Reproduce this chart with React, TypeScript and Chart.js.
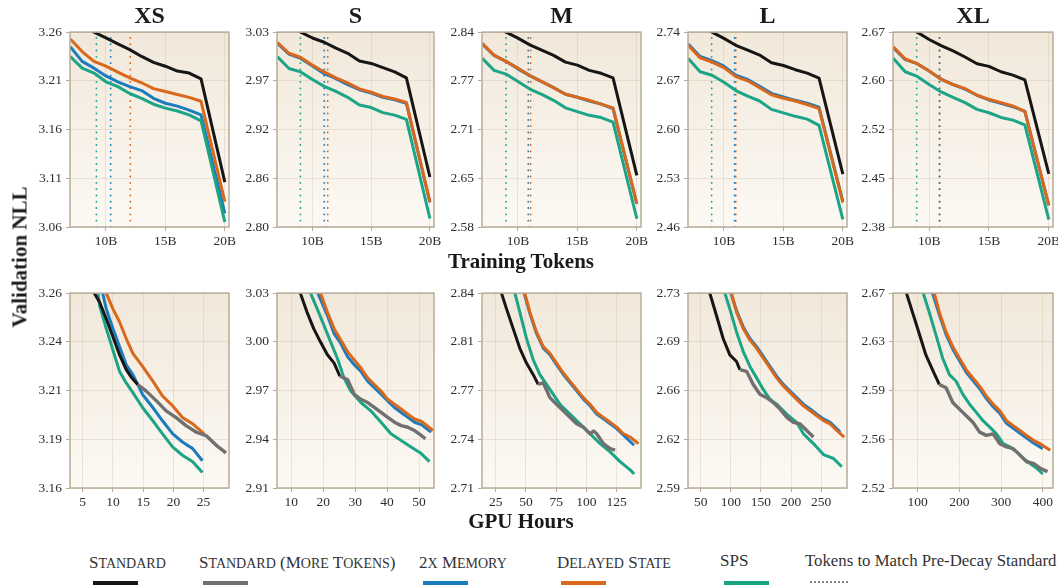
import React, { useEffect, useRef } from "react";
import { Chart, registerables } from "chart.js";
Chart.register(...registerables);

const FONT = "'Liberation Serif', 'Times New Roman', Times, serif";
const C_STD = "#161616";
const C_MORE = "#707070";
const C_MEM = "#1b7bbf";
const C_DEL = "#d9681c";
const C_SPS = "#1ca486";
const FRAME = "#b8ac99";
const GRID = "rgba(190,176,152,0.28)";
const TXT = "#2e2e2e";

// ---------------- data ----------------
const SIZES = ["XS", "S", "M", "L", "XL"];
const TOKENS = [7, 8, 9, 10, 11, 12, 13, 14, 15, 16, 17, 18, 20];
const TOKEN_TICKS = [10, 15, 20];
const TOKEN_TICK_LABELS = ["10B", "15B", "20B"];

const XS_TOK_YTICKS = ["3.06", "3.11", "3.16", "3.21", "3.26"];
const S_TOK_YTICKS = ["2.80", "2.86", "2.92", "2.97", "3.03"];
const M_TOK_YTICKS = ["2.58", "2.65", "2.71", "2.77", "2.84"];
const L_TOK_YTICKS = ["2.46", "2.53", "2.60", "2.67", "2.74"];
const XL_TOK_YTICKS = ["2.38", "2.45", "2.52", "2.60", "2.67"];

const XS_TOK_STD = [3.274, 3.267, 3.26, 3.254, 3.248, 3.242, 3.235, 3.229, 3.225, 3.22, 3.218, 3.212, 3.106];
const XS_TOK_MEM = [3.245, 3.23, 3.223, 3.215, 3.209, 3.204, 3.2, 3.192, 3.187, 3.184, 3.18, 3.175, 3.074];
const XS_TOK_DEL = [3.253, 3.24, 3.23, 3.225, 3.219, 3.213, 3.208, 3.202, 3.199, 3.196, 3.193, 3.189, 3.086];
const XS_TOK_SPS = [3.235, 3.223, 3.218, 3.209, 3.204, 3.197, 3.192, 3.186, 3.182, 3.179, 3.175, 3.169, 3.065];
const XS_MATCH = [9.2, 10.4, 12.05]; // SPS, 2x Memory, Delayed State

const S_TOK_STD = [3.045, 3.037, 3.03, 3.023, 3.018, 3.011, 3.005, 2.996, 2.993, 2.988, 2.983, 2.976, 2.859];
const S_TOK_MEM = [3.017, 3.004, 2.999, 2.99, 2.981, 2.975, 2.968, 2.962, 2.958, 2.953, 2.95, 2.946, 2.829];
const S_TOK_DEL = [3.018, 3.005, 3.0, 2.991, 2.983, 2.976, 2.97, 2.963, 2.959, 2.954, 2.951, 2.947, 2.83];
const S_TOK_SPS = [3.001, 2.987, 2.983, 2.974, 2.966, 2.96, 2.953, 2.944, 2.941, 2.935, 2.932, 2.927, 2.81];
const S_MATCH = [8.97, 11.0, 11.3];

const M_TOK_STD = [2.858, 2.849, 2.84, 2.832, 2.823, 2.816, 2.809, 2.8, 2.796, 2.789, 2.785, 2.779, 2.649];
const M_TOK_MEM = [2.824, 2.809, 2.801, 2.791, 2.782, 2.774, 2.766, 2.757, 2.753, 2.748, 2.744, 2.738, 2.611];
const M_TOK_DEL = [2.825, 2.809, 2.801, 2.792, 2.782, 2.774, 2.766, 2.757, 2.753, 2.749, 2.744, 2.739, 2.611];
const M_TOK_SPS = [2.805, 2.789, 2.784, 2.774, 2.764, 2.757, 2.749, 2.739, 2.734, 2.729, 2.726, 2.72, 2.591];
const M_MATCH = [9.0, 10.87, 11.07];

const L_TOK_STD = [2.757, 2.748, 2.74, 2.731, 2.721, 2.714, 2.707, 2.696, 2.692, 2.686, 2.681, 2.674, 2.536];
const L_TOK_MEM = [2.723, 2.705, 2.699, 2.691, 2.678, 2.672, 2.662, 2.652, 2.647, 2.642, 2.638, 2.632, 2.497];
const L_TOK_DEL = [2.721, 2.703, 2.697, 2.689, 2.676, 2.67, 2.66, 2.65, 2.645, 2.641, 2.636, 2.63, 2.495];
const L_TOK_SPS = [2.702, 2.683, 2.678, 2.668, 2.656, 2.648, 2.641, 2.629, 2.624, 2.619, 2.615, 2.606, 2.471];
const L_MATCH = [8.97, 10.9, 11.0];

const XL_TOK_STD = [2.69, 2.679, 2.67, 2.659, 2.65, 2.642, 2.633, 2.623, 2.619, 2.611, 2.606, 2.599, 2.459];
const XL_TOK_MEM = [2.647, 2.629, 2.623, 2.612, 2.6, 2.592, 2.585, 2.576, 2.569, 2.564, 2.559, 2.552, 2.412];
const XL_TOK_DEL = [2.648, 2.63, 2.623, 2.612, 2.6, 2.592, 2.586, 2.576, 2.57, 2.565, 2.56, 2.552, 2.412];
const XL_TOK_SPS = [2.631, 2.611, 2.604, 2.592, 2.581, 2.573, 2.565, 2.555, 2.55, 2.543, 2.539, 2.532, 2.391];
const XL_MATCH = [8.96, 10.87, 10.87];

// GPU hours row: [hours, NLL] pairs
const XS_GPU_YTICKS = ["3.16", "3.19", "3.21", "3.24", "3.26"];
const S_GPU_YTICKS = ["2.91", "2.94", "2.97", "3.00", "3.03"];
const M_GPU_YTICKS = ["2.71", "2.74", "2.77", "2.81", "2.84"];
const L_GPU_YTICKS = ["2.59", "2.62", "2.66", "2.69", "2.73"];
const XL_GPU_YTICKS = ["2.52", "2.56", "2.59", "2.63", "2.67"];

const XS_GPU_XTICKS = [5, 10, 15, 20, 25];
const S_GPU_XTICKS = [10, 20, 30, 40, 50];
const M_GPU_XTICKS = [25, 50, 75, 100, 125];
const L_GPU_XTICKS = [50, 100, 150, 200, 250];
const XL_GPU_XTICKS = [100, 200, 300, 400];

const XS_GPU_STD = [[6.0, 3.275], [6.9, 3.26], [7.8, 3.2553], [8.9, 3.2468], [10.0, 3.2376], [11.1, 3.2283], [12.2, 3.2207], [13.0, 3.217], [14.1, 3.2131]];
const XS_GPU_MORE = [[14.1, 3.2131], [15.5, 3.2097], [17.2, 3.2047], [18.8, 3.1996], [20.4, 3.1962], [22.1, 3.192], [23.8, 3.1886], [25.4, 3.1869], [27.1, 3.1819], [28.7, 3.178]];
const XS_GPU_MEM = [[7.8, 3.268], [8.3, 3.26], [8.9, 3.2519], [10.0, 3.2418], [11.1, 3.2325], [12.2, 3.2232], [13.3, 3.2182], [14.9, 3.208], [16.6, 3.2013], [18.2, 3.1945], [19.9, 3.1878], [21.5, 3.1836], [23.2, 3.1802], [24.8, 3.174]];
const XS_GPU_DEL = [[8.3, 3.27], [8.9, 3.26], [10.0, 3.2519], [11.1, 3.2452], [12.2, 3.2367], [13.3, 3.2291], [14.9, 3.2224], [16.6, 3.2148], [18.2, 3.2072], [19.9, 3.2021], [21.5, 3.1962], [23.2, 3.1929], [25.1, 3.1878]];
const XS_GPU_SPS = [[7.0, 3.272], [7.8, 3.2536], [8.9, 3.2418], [10.0, 3.2308], [11.1, 3.2198], [12.2, 3.2139], [13.3, 3.2089], [14.9, 3.2013], [16.6, 3.1945], [18.2, 3.1878], [19.9, 3.181], [21.5, 3.1768], [23.2, 3.1735], [24.8, 3.1679]];

const S_GPU_STD = [[11.5, 3.042], [12.8, 3.03], [14.9, 3.0183], [17.0, 3.0081], [19.1, 3.0], [21.3, 2.992], [23.4, 2.9869], [25.2, 2.9788]];
const S_GPU_MORE = [[25.2, 2.9788], [27.6, 2.9768], [29.7, 2.9677], [31.8, 2.9646], [33.9, 2.9626], [36.0, 2.9596], [38.1, 2.9565], [40.2, 2.9535], [42.3, 2.9505], [44.4, 2.9484], [46.5, 2.9474], [48.6, 2.9454], [50.7, 2.9424], [52.0, 2.9403]];
const S_GPU_MEM = [[17.0, 3.038], [18.3, 3.03], [21.3, 3.0162], [23.4, 3.0051], [25.5, 2.999], [27.6, 2.9909], [29.7, 2.9859], [31.8, 2.9818], [33.9, 2.9758], [36.0, 2.9717], [38.1, 2.9677], [40.2, 2.9636], [42.3, 2.9596], [44.4, 2.9565], [46.5, 2.9535], [48.6, 2.9505], [50.7, 2.949], [53.8, 2.9444]];
const S_GPU_DEL = [[17.5, 3.04], [19.1, 3.03], [21.3, 3.0183], [23.4, 3.0081], [25.5, 3.0011], [27.6, 2.994], [29.7, 2.9889], [31.8, 2.9839], [33.9, 2.9778], [36.0, 2.9737], [38.1, 2.9697], [40.2, 2.9646], [42.3, 2.9616], [44.4, 2.9586], [46.5, 2.9555], [48.6, 2.9525], [50.7, 2.9511], [54.4, 2.9454]];
const S_GPU_SPS = [[14.5, 3.04], [16.0, 3.03], [18.1, 3.0203], [20.2, 3.0102], [22.3, 3.0], [24.4, 2.9899], [26.5, 2.9778], [28.6, 2.9697], [31.8, 2.9626], [34.9, 2.9575], [38.1, 2.9505], [41.2, 2.9434], [44.4, 2.9393], [47.5, 2.9353], [50.7, 2.9312], [53.3, 2.9262]];

const M_GPU_STD = [[27, 2.846], [29.7, 2.84], [33.9, 2.8295], [39.4, 2.8163], [44.9, 2.8032], [50.4, 2.7933], [56.0, 2.7856], [60.1, 2.7791]];
const M_GPU_MORE = [[60.1, 2.7791], [64.3, 2.7802], [69.8, 2.7703], [75.3, 2.7659], [80.9, 2.7615], [86.4, 2.7571], [91.9, 2.7528], [97.5, 2.7506], [103.0, 2.7462], [106.0, 2.748], [108.5, 2.7462], [114.1, 2.7396], [119.6, 2.7363], [123.8, 2.7352]];
const M_GPU_MEM = [[46, 2.846], [48.5, 2.84], [53.2, 2.8265], [58.7, 2.8131], [64.3, 2.8033], [69.8, 2.7989], [75.3, 2.7923], [80.9, 2.7857], [86.4, 2.7803], [91.9, 2.7748], [97.5, 2.7693], [103.0, 2.7649], [108.5, 2.7594], [114.1, 2.7561], [119.6, 2.7529], [125.1, 2.7496], [130.7, 2.7452], [139.5, 2.7385]];
const M_GPU_DEL = [[46.5, 2.846], [49, 2.84], [53.2, 2.8273], [58.7, 2.8141], [64.3, 2.8043], [69.8, 2.7999], [75.3, 2.7933], [80.9, 2.7867], [86.4, 2.7813], [91.9, 2.7758], [97.5, 2.7703], [103.0, 2.7659], [108.5, 2.7604], [114.1, 2.7571], [119.6, 2.7539], [125.1, 2.7506], [130.7, 2.7462], [136.2, 2.744], [143.1, 2.7396]];
const M_GPU_SPS = [[38, 2.846], [40.8, 2.84], [44.9, 2.8273], [50.4, 2.8098], [56.0, 2.7955], [61.5, 2.7856], [67.0, 2.7791], [72.6, 2.7725], [78.1, 2.7659], [86.4, 2.7593], [94.7, 2.7528], [103.0, 2.7462], [111.3, 2.7396], [119.6, 2.7341], [127.9, 2.7276], [136.2, 2.7221], [139.5, 2.7194]];

const L_GPU_STD = [[60, 2.737], [65, 2.73], [76.1, 2.7139], [87.2, 2.6974], [98.3, 2.6856], [109.4, 2.6809], [115, 2.675]];
const L_GPU_MORE = [[115, 2.675], [126.1, 2.6738], [137.2, 2.6644], [148.3, 2.6573], [159.4, 2.6549], [170.6, 2.6514], [181.7, 2.6467], [192.8, 2.6408], [203.9, 2.6372], [215, 2.636], [226.1, 2.6313], [237.2, 2.6266]];
const L_GPU_MEM = [[96, 2.737], [100, 2.73], [109.4, 2.7175], [120.6, 2.7057], [131.7, 2.6974], [142.8, 2.6915], [153.9, 2.6845], [165, 2.6774], [176.1, 2.6703], [187.2, 2.6644], [198.3, 2.6597], [209.4, 2.6549], [220.6, 2.6502], [231.7, 2.6467], [242.8, 2.6431], [253.9, 2.6396], [265, 2.6372], [281.7, 2.6301]];
const L_GPU_DEL = [[97, 2.737], [101, 2.73], [109.4, 2.7163], [120.6, 2.7045], [131.7, 2.6962], [142.8, 2.6903], [153.9, 2.6833], [165, 2.6762], [176.1, 2.6691], [187.2, 2.6632], [198.3, 2.6585], [209.4, 2.6537], [220.6, 2.649], [231.7, 2.6455], [242.8, 2.6419], [253.9, 2.6384], [265, 2.636], [276.1, 2.6313], [288.3, 2.6266]];
const L_GPU_SPS = [[86, 2.737], [90, 2.73], [98.3, 2.7187], [109.4, 2.7021], [120.6, 2.688], [131.7, 2.6773], [142.8, 2.6691], [153.9, 2.6608], [165, 2.6537], [176.1, 2.6502], [192.8, 2.6431], [209.4, 2.6372], [220.6, 2.6289], [237.2, 2.6219], [253.9, 2.614], [270.6, 2.6112], [284.4, 2.6053]];

const XL_GPU_STD = [[65, 2.684], [73.5, 2.67], [88, 2.6553], [104, 2.6389], [120, 2.6224], [136, 2.611], [152, 2.5997]];
const XL_GPU_MORE = [[152, 2.5997], [168.3, 2.5971], [184.3, 2.5858], [200.4, 2.5807], [216.5, 2.5756], [232.5, 2.5706], [248.6, 2.563], [264.7, 2.5605], [280.7, 2.5617], [296.8, 2.5541], [312.9, 2.5516], [328.9, 2.5503], [345, 2.5453], [361, 2.5402], [377.1, 2.5389], [393.2, 2.5352], [410.8, 2.5326]];
const XL_GPU_MEM = [[128, 2.684], [136, 2.67], [152.2, 2.6533], [168.3, 2.6381], [184.3, 2.6268], [200.4, 2.6179], [216.5, 2.609], [232.5, 2.6027], [248.6, 2.5964], [264.7, 2.5888], [280.7, 2.5825], [296.8, 2.5774], [312.9, 2.5698], [328.9, 2.566], [345, 2.5622], [361, 2.5584], [377.1, 2.5547], [399.6, 2.5503]];
const XL_GPU_DEL = [[131, 2.684], [140, 2.67], [152.2, 2.6553], [168.3, 2.6401], [184.3, 2.6288], [200.4, 2.6199], [216.5, 2.611], [232.5, 2.6047], [248.6, 2.5984], [264.7, 2.5908], [280.7, 2.5845], [296.8, 2.5794], [312.9, 2.5718], [328.9, 2.568], [345, 2.5642], [361, 2.5604], [377.1, 2.5567], [393.2, 2.5541], [417.3, 2.5491]];
const XL_GPU_SPS = [[106, 2.684], [113.7, 2.67], [128.1, 2.6553], [144.2, 2.6376], [160.2, 2.6199], [176.3, 2.6073], [192.4, 2.6022], [208.4, 2.5921], [224.5, 2.5845], [240.6, 2.5782], [256.6, 2.5718], [272.7, 2.5668], [288.8, 2.5617], [304.8, 2.5541], [320.9, 2.5516], [337, 2.5478], [353, 2.5427], [369.1, 2.5389], [385.1, 2.5352], [399.6, 2.5308]];

const LEGEND_LABELS = ["Standard", "Standard (More Tokens)", "2x Memory", "Delayed State", "SPS", "Tokens to Match Pre-Decay Standard"];

// ---------------- layout ----------------
const PLOT_LEFT = [70, 277, 482, 688, 893];
const PLOT_W = [159, 157, 159, 159, 160];
const ROW_TOP = [30, 291];
const PLOT_H = 197;
const YW = 44, PT = 10, PR = 20, XH = 26;

type Pt = { x: number; y: number };
type Series = { color: string; data: Pt[]; order: number; width?: number };
type PanelCfg = {
  col: number; row: number;
  xMin: number; xMax: number; xTicks: number[]; xLabels: string[];
  yMin: number; yMax: number; yLabels: string[];
  series: Series[]; dots: { x: number; color: string }[];
};

const fromTokens = (arr: number[]): Pt[] => TOKENS.map((x, i) => ({ x, y: arr[i] }));
const fromPairs = (arr: number[][]): Pt[] => arr.map(([x, y]) => ({ x, y }));

const TOK_SETS = [
  { std: XS_TOK_STD, mem: XS_TOK_MEM, del: XS_TOK_DEL, sps: XS_TOK_SPS, match: XS_MATCH, yl: XS_TOK_YTICKS },
  { std: S_TOK_STD, mem: S_TOK_MEM, del: S_TOK_DEL, sps: S_TOK_SPS, match: S_MATCH, yl: S_TOK_YTICKS },
  { std: M_TOK_STD, mem: M_TOK_MEM, del: M_TOK_DEL, sps: M_TOK_SPS, match: M_MATCH, yl: M_TOK_YTICKS },
  { std: L_TOK_STD, mem: L_TOK_MEM, del: L_TOK_DEL, sps: L_TOK_SPS, match: L_MATCH, yl: L_TOK_YTICKS },
  { std: XL_TOK_STD, mem: XL_TOK_MEM, del: XL_TOK_DEL, sps: XL_TOK_SPS, match: XL_MATCH, yl: XL_TOK_YTICKS },
];
const GPU_SETS = [
  { std: XS_GPU_STD, more: XS_GPU_MORE, mem: XS_GPU_MEM, del: XS_GPU_DEL, sps: XS_GPU_SPS, yl: XS_GPU_YTICKS, xt: XS_GPU_XTICKS, xr: [2.9, 29.2] },
  { std: S_GPU_STD, more: S_GPU_MORE, mem: S_GPU_MEM, del: S_GPU_DEL, sps: S_GPU_SPS, yl: S_GPU_YTICKS, xt: S_GPU_XTICKS, xr: [5.5, 54.7] },
  { std: M_GPU_STD, more: M_GPU_MORE, mem: M_GPU_MEM, del: M_GPU_DEL, sps: M_GPU_SPS, yl: M_GPU_YTICKS, xt: M_GPU_XTICKS, xr: [13.6, 145.2] },
  { std: L_GPU_STD, more: L_GPU_MORE, mem: L_GPU_MEM, del: L_GPU_DEL, sps: L_GPU_SPS, yl: L_GPU_YTICKS, xt: L_GPU_XTICKS, xr: [28.8, 293] },
  { std: XL_GPU_STD, more: XL_GPU_MORE, mem: XL_GPU_MEM, del: XL_GPU_DEL, sps: XL_GPU_SPS, yl: XL_GPU_YTICKS, xt: XL_GPU_XTICKS, xr: [41.4, 424] },
];

const PANELS: PanelCfg[] = [
  ...TOK_SETS.map((s, col) => ({
    col, row: 0,
    xMin: 6.98, xMax: 20.35, xTicks: TOKEN_TICKS, xLabels: TOKEN_TICK_LABELS,
    yMin: parseFloat(s.yl[0]), yMax: parseFloat(s.yl[4]), yLabels: s.yl,
    series: [
      { color: C_MEM, data: fromTokens(s.mem), order: 5 },
      { color: C_DEL, data: fromTokens(s.del), order: 4 },
      { color: C_SPS, data: fromTokens(s.sps), order: 3 },
      { color: C_STD, data: fromTokens(s.std), order: 2 },
    ],
    dots: [
      { x: s.match[0], color: C_SPS },
      { x: s.match[1], color: C_MEM },
      { x: s.match[2], color: C_DEL },
    ],
  })),
  ...GPU_SETS.map((s, col) => ({
    col, row: 1,
    xMin: s.xr[0], xMax: s.xr[1], xTicks: s.xt, xLabels: s.xt.map(String),
    yMin: parseFloat(s.yl[0]), yMax: parseFloat(s.yl[4]), yLabels: s.yl,
    series: [
      { color: C_MEM, data: fromPairs(s.mem), order: 5 },
      { color: C_DEL, data: fromPairs(s.del), order: 4 },
      { color: C_SPS, data: fromPairs(s.sps), order: 3 },
      { color: C_STD, data: fromPairs(s.std), order: 2 },
      { color: C_MORE, data: fromPairs(s.more), order: 1, width: 3.4 },
    ],
    dots: [],
  })),
];

const framePlugin = {
  id: "frameBg",
  beforeDraw(chart: any) {
    const { ctx, chartArea: a } = chart;
    const g = ctx.createLinearGradient(0, a.top, 0, a.bottom);
    g.addColorStop(0, "#f1e8da");
    g.addColorStop(1, "#fcf9f4");
    ctx.save();
    ctx.fillStyle = g;
    ctx.fillRect(a.left, a.top, a.right - a.left, a.bottom - a.top);
    ctx.restore();
  },
  afterDraw(chart: any) {
    const { ctx, chartArea: a } = chart;
    ctx.save();
    ctx.strokeStyle = FRAME;
    ctx.lineWidth = 1.5;
    ctx.strokeRect(a.left, a.top, a.right - a.left, a.bottom - a.top);
    ctx.restore();
  },
};

function Panel({ cfg }: { cfg: PanelCfg }) {
  const ref = useRef<HTMLCanvasElement>(null);
  const w = YW + PLOT_W[cfg.col] + PR;
  const h = PT + PLOT_H + XH;
  useEffect(() => {
    if (!ref.current) return;
    const yVals = [0, 1, 2, 3, 4].map((i) => cfg.yMin + (i * (cfg.yMax - cfg.yMin)) / 4);
    const datasets: any[] = [
      ...cfg.dots.map((d) => ({
        data: [{ x: d.x, y: cfg.yMin }, { x: d.x, y: cfg.yMax }],
        borderColor: d.color,
        borderWidth: 1.8,
        borderDash: [0.1, 6.2],
        borderCapStyle: "round",
        pointRadius: 0,
        order: 10,
        clip: 0,
      })),
      ...cfg.series.map((s) => ({
        data: s.data,
        borderColor: s.color,
        borderWidth: s.width ?? 3,
        borderJoinStyle: "round",
        borderCapStyle: "butt",
        pointRadius: 0,
        tension: 0,
        order: s.order,
        clip: 0,
      })),
    ];
    const tickFont = { family: FONT, size: 13.5 };
    const chart = new Chart(ref.current, {
      type: "line",
      data: { datasets },
      plugins: [framePlugin],
      options: {
        animation: false,
        responsive: false,
        maintainAspectRatio: false,
        devicePixelRatio: 1,
        layout: { padding: { left: 0, top: PT, right: PR, bottom: 0 } },
        plugins: { legend: { display: false }, tooltip: { enabled: false } },
        scales: {
          x: {
            type: "linear",
            min: cfg.xMin,
            max: cfg.xMax,
            afterBuildTicks: (sc: any) => { sc.ticks = cfg.xTicks.map((v) => ({ value: v })); },
            afterFit: (sc: any) => { sc.height = XH; },
            ticks: {
              font: tickFont,
              color: TXT,
              padding: 2,
              maxRotation: 0,
              autoSkip: false,
              callback: (_v: any, i: number) => cfg.xLabels[i],
            },
            grid: { color: GRID, lineWidth: 1, tickLength: 4, tickColor: FRAME, drawTicks: true },
            border: { display: false },
          },
          y: {
            type: "linear",
            min: cfg.yMin,
            max: cfg.yMax,
            afterBuildTicks: (sc: any) => { sc.ticks = yVals.map((v) => ({ value: v })); },
            afterFit: (sc: any) => { sc.width = YW; },
            ticks: {
              font: tickFont,
              color: TXT,
              padding: 4,
              autoSkip: false,
              callback: (_v: any, i: number) => cfg.yLabels[i],
            },
            grid: { color: GRID, lineWidth: 1, tickLength: 4, tickColor: FRAME, drawTicks: true },
            border: { display: false },
          },
        },
      } as any,
    });
    return () => chart.destroy();
  }, [cfg]);
  return (
    <canvas
      ref={ref}
      width={w}
      height={h}
      style={{
        position: "absolute",
        left: PLOT_LEFT[cfg.col] - YW,
        top: ROW_TOP[cfg.row] - PT,
        width: w,
        height: h,
      }}
    />
  );
}

// Small caps with capitals at the base size and lower-case letters as synthesized small caps
function SmallCaps({ text }: { text: string }) {
  const runs: { s: string; lower: boolean }[] = [];
  for (const ch of text) {
    const lower = ch !== ch.toUpperCase();
    const last = runs[runs.length - 1];
    if (last && last.lower === lower) last.s += ch;
    else runs.push({ s: ch, lower });
  }
  return (
    <>
      {runs.map((r, i) =>
        r.lower ? (
          <span key={i} style={{ fontSize: 20.3, fontVariant: "small-caps" }}>{r.s}</span>
        ) : (
          <span key={i} style={{ fontSize: 17 }}>{r.s}</span>
        )
      )}
    </>
  );
}

const LEGEND_COLORS = [C_STD, C_MORE, C_MEM, C_DEL, C_SPS, ""];
const LEGEND_X = [89, 199, 419, 557, 720, 805];

export default function App() {
  const label: React.CSSProperties = {
    position: "absolute",
    fontFamily: FONT,
    fontWeight: "bold",
    color: "#1a1a1a",
    whiteSpace: "nowrap",
    lineHeight: 1,
    transform: "translate(-50%, -50%)",
  };
  return (
    <div style={{ position: "absolute", left: 0, top: 0, width: 1058, height: 585, overflow: "hidden", background: "#fff" }}>
      {PANELS.map((p, i) => <Panel key={i} cfg={p} />)}
      {SIZES.map((s, i) => (
        <div key={s} style={{ ...label, fontSize: 24, left: PLOT_LEFT[i] + PLOT_W[i] / 2, top: 15 }}>{s}</div>
      ))}
      <div style={{ ...label, fontSize: 21, left: 521, top: 261 }}>Training Tokens</div>
      <div style={{ ...label, fontSize: 21, left: 521, top: 521 }}>GPU Hours</div>
      <div style={{ ...label, fontSize: 21, left: 20, top: 257, transform: "translate(-50%, -50%) rotate(-90deg)" }}>Validation NLL</div>
      {LEGEND_LABELS.map((t, i) => (
        <React.Fragment key={t}>
          <div
            style={{
              position: "absolute",
              left: LEGEND_X[i],
              top: 549,
              height: 24,
              display: "flex",
              alignItems: "baseline",
              fontFamily: FONT,
              fontSize: 16.8,
              lineHeight: "24px",
              color: "#333",
              whiteSpace: "pre",
            }}
          >
            {i < 5 ? <SmallCaps text={t} /> : t}
          </div>
          {i < 5 ? (
            <div style={{ position: "absolute", left: LEGEND_X[i] + 4, top: 581, width: 45, height: 4, background: LEGEND_COLORS[i] }} />
          ) : (
            <div style={{ position: "absolute", left: LEGEND_X[i] + 5, top: 581, width: 38, height: 0, borderTop: "2px dotted #8a8a8a" }} />
          )}
        </React.Fragment>
      ))}
    </div>
  );
}
